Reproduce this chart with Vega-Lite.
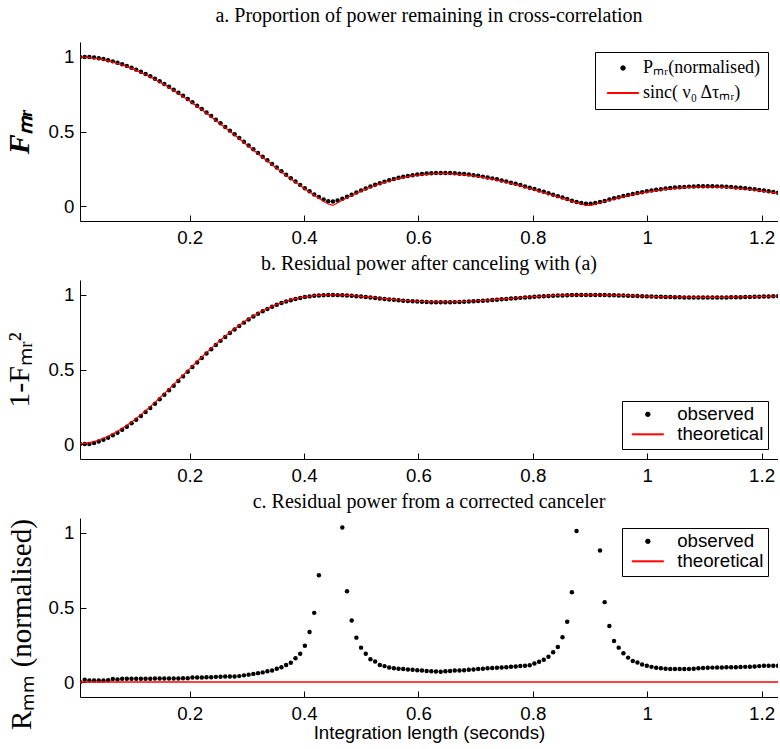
{
"$schema": "https://vega.github.io/schema/vega-lite/v6.json",
"background": "white",
"padding": {"left": 4, "top": 6, "right": 0, "bottom": 0},
"spacing": 59,
"bounds": "flush",
"config": {
 "view": {"stroke": null},
 "title": {"font": "Liberation Serif", "fontSize": 20, "fontWeight": "normal", "color": "black", "anchor": "middle", "frame": "group"},
 "axis": {"labelFont": "Liberation Sans", "labelFontSize": 18.7, "labelColor": "black", "domainColor": "black", "tickColor": "black", "tickSize": -6, "grid": false, "labelFlush": false, "labelOverlap": false, "labelBound": false, "titleColor": "black", "titleFontWeight": "normal"},
 "axisX": {"labelPadding": 13, "titleFont": "Liberation Sans", "titleFontSize": 18.7, "titlePadding": 1},
 "axisY": {"labelPadding": 12, "titleFont": "Liberation Serif", "titleFontSize": 30},
 "legend": {"strokeColor": "black", "fillColor": "white", "cornerRadius": 0, "padding": 4, "rowPadding": 0, "symbolSize": 20, "symbolStrokeWidth": 1, "labelFont": "Liberation Sans", "labelFontSize": 18.7, "labelColor": "black", "labelLimit": 400, "offset": 10, "labelOffset": 20, "symbolOffset": 12.5}
},
"resolve": {"scale": {"color": "independent", "shape": "independent"}, "legend": {"color": "independent", "shape": "independent"}},
"data": {"values": [
{"t":0.00819,"sinc":0.9995,"Pmr":1.0,"b_th":0.001,"b_obs":0.0,"c_obs":0.0,"c_th":0},
{"t":0.01638,"sinc":0.9978,"Pmr":1.0,"b_th":0.0044,"b_obs":0.0,"c_obs":0.015,"c_th":0},
{"t":0.02458,"sinc":0.9951,"Pmr":0.9995,"b_th":0.0098,"b_obs":0.001,"c_obs":0.01,"c_th":0},
{"t":0.03277,"sinc":0.9912,"Pmr":0.9962,"b_th":0.0175,"b_obs":0.0076,"c_obs":0.01,"c_th":0},
{"t":0.04096,"sinc":0.9863,"Pmr":0.9913,"b_th":0.0272,"b_obs":0.0173,"c_obs":0.01,"c_th":0},
{"t":0.04915,"sinc":0.9804,"Pmr":0.9854,"b_th":0.0388,"b_obs":0.029,"c_obs":0.01,"c_th":0},
{"t":0.05734,"sinc":0.9733,"Pmr":0.9783,"b_th":0.0527,"b_obs":0.0429,"c_obs":0.012,"c_th":0},
{"t":0.06554,"sinc":0.9652,"Pmr":0.9702,"b_th":0.0684,"b_obs":0.0587,"c_obs":0.02,"c_th":0},
{"t":0.07373,"sinc":0.9561,"Pmr":0.9611,"b_th":0.0859,"b_obs":0.0763,"c_obs":0.018,"c_th":0},
{"t":0.08192,"sinc":0.946,"Pmr":0.951,"b_th":0.1051,"b_obs":0.0956,"c_obs":0.022,"c_th":0},
{"t":0.09011,"sinc":0.9349,"Pmr":0.9399,"b_th":0.126,"b_obs":0.1166,"c_obs":0.022,"c_th":0},
{"t":0.0983,"sinc":0.9228,"Pmr":0.9278,"b_th":0.1484,"b_obs":0.1392,"c_obs":0.023,"c_th":0},
{"t":0.1065,"sinc":0.9098,"Pmr":0.9148,"b_th":0.1723,"b_obs":0.1631,"c_obs":0.023,"c_th":0},
{"t":0.11469,"sinc":0.8959,"Pmr":0.9009,"b_th":0.1974,"b_obs":0.1884,"c_obs":0.023,"c_th":0},
{"t":0.12288,"sinc":0.881,"Pmr":0.886,"b_th":0.2238,"b_obs":0.215,"c_obs":0.023,"c_th":0},
{"t":0.13107,"sinc":0.8653,"Pmr":0.8703,"b_th":0.2513,"b_obs":0.2426,"c_obs":0.023,"c_th":0},
{"t":0.13926,"sinc":0.8488,"Pmr":0.8538,"b_th":0.2795,"b_obs":0.271,"c_obs":0.024,"c_th":0},
{"t":0.14746,"sinc":0.8315,"Pmr":0.8365,"b_th":0.3086,"b_obs":0.3003,"c_obs":0.024,"c_th":0},
{"t":0.15565,"sinc":0.8134,"Pmr":0.8184,"b_th":0.3384,"b_obs":0.3302,"c_obs":0.024,"c_th":0},
{"t":0.16384,"sinc":0.7945,"Pmr":0.7995,"b_th":0.3688,"b_obs":0.3608,"c_obs":0.024,"c_th":0},
{"t":0.17203,"sinc":0.775,"Pmr":0.78,"b_th":0.3994,"b_obs":0.3916,"c_obs":0.024,"c_th":0},
{"t":0.18022,"sinc":0.7548,"Pmr":0.7598,"b_th":0.4303,"b_obs":0.4227,"c_obs":0.024,"c_th":0},
{"t":0.18842,"sinc":0.734,"Pmr":0.739,"b_th":0.4612,"b_obs":0.4539,"c_obs":0.025,"c_th":0},
{"t":0.19661,"sinc":0.7126,"Pmr":0.7176,"b_th":0.4922,"b_obs":0.485,"c_obs":0.025,"c_th":0},
{"t":0.2048,"sinc":0.6906,"Pmr":0.6956,"b_th":0.5231,"b_obs":0.5161,"c_obs":0.03,"c_th":0},
{"t":0.21299,"sinc":0.6682,"Pmr":0.6732,"b_th":0.5535,"b_obs":0.5468,"c_obs":0.031,"c_th":0},
{"t":0.22118,"sinc":0.6453,"Pmr":0.6503,"b_th":0.5836,"b_obs":0.5771,"c_obs":0.031,"c_th":0},
{"t":0.22938,"sinc":0.622,"Pmr":0.627,"b_th":0.6131,"b_obs":0.6069,"c_obs":0.032,"c_th":0},
{"t":0.23757,"sinc":0.5983,"Pmr":0.6033,"b_th":0.642,"b_obs":0.636,"c_obs":0.032,"c_th":0},
{"t":0.24576,"sinc":0.5743,"Pmr":0.5793,"b_th":0.6702,"b_obs":0.6644,"c_obs":0.035,"c_th":0},
{"t":0.25395,"sinc":0.5501,"Pmr":0.5551,"b_th":0.6974,"b_obs":0.6919,"c_obs":0.036,"c_th":0},
{"t":0.26214,"sinc":0.5256,"Pmr":0.5306,"b_th":0.7237,"b_obs":0.7185,"c_obs":0.037,"c_th":0},
{"t":0.27034,"sinc":0.5008,"Pmr":0.5058,"b_th":0.7492,"b_obs":0.7442,"c_obs":0.037,"c_th":0},
{"t":0.27853,"sinc":0.476,"Pmr":0.481,"b_th":0.7734,"b_obs":0.7686,"c_obs":0.038,"c_th":0},
{"t":0.28672,"sinc":0.451,"Pmr":0.456,"b_th":0.7966,"b_obs":0.7921,"c_obs":0.04,"c_th":0},
{"t":0.29491,"sinc":0.426,"Pmr":0.431,"b_th":0.8185,"b_obs":0.8142,"c_obs":0.045,"c_th":0},
{"t":0.3031,"sinc":0.401,"Pmr":0.406,"b_th":0.8392,"b_obs":0.8352,"c_obs":0.05,"c_th":0},
{"t":0.3113,"sinc":0.376,"Pmr":0.381,"b_th":0.8586,"b_obs":0.8548,"c_obs":0.055,"c_th":0},
{"t":0.31949,"sinc":0.3511,"Pmr":0.3561,"b_th":0.8767,"b_obs":0.8732,"c_obs":0.06,"c_th":0},
{"t":0.32768,"sinc":0.3263,"Pmr":0.3313,"b_th":0.8935,"b_obs":0.8902,"c_obs":0.065,"c_th":0},
{"t":0.33587,"sinc":0.3016,"Pmr":0.3066,"b_th":0.909,"b_obs":0.906,"c_obs":0.072,"c_th":0},
{"t":0.34406,"sinc":0.2773,"Pmr":0.2823,"b_th":0.9231,"b_obs":0.9203,"c_obs":0.078,"c_th":0},
{"t":0.35226,"sinc":0.253,"Pmr":0.258,"b_th":0.936,"b_obs":0.9334,"c_obs":0.09,"c_th":0},
{"t":0.36045,"sinc":0.2291,"Pmr":0.2341,"b_th":0.9475,"b_obs":0.9452,"c_obs":0.1,"c_th":0},
{"t":0.36864,"sinc":0.2056,"Pmr":0.2106,"b_th":0.9577,"b_obs":0.9556,"c_obs":0.115,"c_th":0},
{"t":0.37683,"sinc":0.1823,"Pmr":0.1873,"b_th":0.9668,"b_obs":0.9649,"c_obs":0.13,"c_th":0},
{"t":0.38502,"sinc":0.1595,"Pmr":0.1645,"b_th":0.9746,"b_obs":0.9729,"c_obs":0.16,"c_th":0},
{"t":0.39322,"sinc":0.1371,"Pmr":0.1421,"b_th":0.9812,"b_obs":0.9798,"c_obs":0.19,"c_th":0},
{"t":0.40141,"sinc":0.1152,"Pmr":0.1202,"b_th":0.9867,"b_obs":0.9856,"c_obs":0.244,"c_th":0},
{"t":0.4096,"sinc":0.0938,"Pmr":0.0988,"b_th":0.9912,"b_obs":0.9902,"c_obs":0.336,"c_th":0},
{"t":0.41779,"sinc":0.073,"Pmr":0.078,"b_th":0.9947,"b_obs":0.9939,"c_obs":0.464,"c_th":0},
{"t":0.42598,"sinc":0.0527,"Pmr":0.0606,"b_th":0.9972,"b_obs":0.9963,"c_obs":0.716,"c_th":0},
{"t":0.43418,"sinc":0.033,"Pmr":0.0446,"b_th":0.9989,"b_obs":0.998,"c_obs":null,"c_th":0},
{"t":0.44237,"sinc":0.0139,"Pmr":0.0331,"b_th":0.9998,"b_obs":0.9989,"c_obs":null,"c_th":0},
{"t":0.45056,"sinc":0.0045,"Pmr":0.0303,"b_th":1.0,"b_obs":0.9991,"c_obs":null,"c_th":0},
{"t":0.45875,"sinc":0.0223,"Pmr":0.0374,"b_th":0.9995,"b_obs":0.9986,"c_obs":null,"c_th":0},
{"t":0.46694,"sinc":0.0394,"Pmr":0.0497,"b_th":0.9984,"b_obs":0.9975,"c_obs":1.036,"c_th":0},
{"t":0.47514,"sinc":0.0557,"Pmr":0.0633,"b_th":0.9969,"b_obs":0.996,"c_obs":0.609,"c_th":0},
{"t":0.48333,"sinc":0.0713,"Pmr":0.0763,"b_th":0.9949,"b_obs":0.9942,"c_obs":0.413,"c_th":0},
{"t":0.49152,"sinc":0.0862,"Pmr":0.0912,"b_th":0.9926,"b_obs":0.9917,"c_obs":0.298,"c_th":0},
{"t":0.49971,"sinc":0.1003,"Pmr":0.1053,"b_th":0.9899,"b_obs":0.9889,"c_obs":0.231,"c_th":0},
{"t":0.5079,"sinc":0.1136,"Pmr":0.1186,"b_th":0.9871,"b_obs":0.9859,"c_obs":0.19,"c_th":0},
{"t":0.5161,"sinc":0.1261,"Pmr":0.1311,"b_th":0.9841,"b_obs":0.9828,"c_obs":0.153,"c_th":0},
{"t":0.52429,"sinc":0.1378,"Pmr":0.1428,"b_th":0.981,"b_obs":0.9796,"c_obs":0.138,"c_th":0},
{"t":0.53248,"sinc":0.1488,"Pmr":0.1538,"b_th":0.9779,"b_obs":0.9763,"c_obs":0.115,"c_th":0},
{"t":0.54067,"sinc":0.1589,"Pmr":0.1639,"b_th":0.9748,"b_obs":0.9731,"c_obs":0.107,"c_th":0},
{"t":0.54886,"sinc":0.1682,"Pmr":0.1732,"b_th":0.9717,"b_obs":0.97,"c_obs":0.098,"c_th":0},
{"t":0.55706,"sinc":0.1766,"Pmr":0.1816,"b_th":0.9688,"b_obs":0.967,"c_obs":0.093,"c_th":0},
{"t":0.56525,"sinc":0.1843,"Pmr":0.1893,"b_th":0.966,"b_obs":0.9642,"c_obs":0.089,"c_th":0},
{"t":0.57344,"sinc":0.1911,"Pmr":0.1961,"b_th":0.9635,"b_obs":0.9615,"c_obs":0.087,"c_th":0},
{"t":0.58163,"sinc":0.1971,"Pmr":0.2021,"b_th":0.9612,"b_obs":0.9592,"c_obs":0.085,"c_th":0},
{"t":0.58982,"sinc":0.2023,"Pmr":0.2073,"b_th":0.9591,"b_obs":0.957,"c_obs":0.082,"c_th":0},
{"t":0.59802,"sinc":0.2067,"Pmr":0.2117,"b_th":0.9573,"b_obs":0.9552,"c_obs":0.08,"c_th":0},
{"t":0.60621,"sinc":0.2104,"Pmr":0.2154,"b_th":0.9557,"b_obs":0.9536,"c_obs":0.077,"c_th":0},
{"t":0.6144,"sinc":0.2132,"Pmr":0.2182,"b_th":0.9545,"b_obs":0.9524,"c_obs":0.074,"c_th":0},
{"t":0.62259,"sinc":0.2153,"Pmr":0.2203,"b_th":0.9536,"b_obs":0.9515,"c_obs":0.072,"c_th":0},
{"t":0.63078,"sinc":0.2166,"Pmr":0.2216,"b_th":0.9531,"b_obs":0.9509,"c_obs":0.071,"c_th":0},
{"t":0.63898,"sinc":0.2172,"Pmr":0.2222,"b_th":0.9528,"b_obs":0.9506,"c_obs":0.07,"c_th":0},
{"t":0.64717,"sinc":0.2171,"Pmr":0.2221,"b_th":0.9529,"b_obs":0.9507,"c_obs":0.072,"c_th":0},
{"t":0.65536,"sinc":0.2162,"Pmr":0.2212,"b_th":0.9533,"b_obs":0.9511,"c_obs":0.075,"c_th":0},
{"t":0.66355,"sinc":0.2147,"Pmr":0.2197,"b_th":0.9539,"b_obs":0.9517,"c_obs":0.077,"c_th":0},
{"t":0.67174,"sinc":0.2125,"Pmr":0.2175,"b_th":0.9548,"b_obs":0.9527,"c_obs":0.078,"c_th":0},
{"t":0.67994,"sinc":0.2097,"Pmr":0.2147,"b_th":0.956,"b_obs":0.9539,"c_obs":0.08,"c_th":0},
{"t":0.68813,"sinc":0.2063,"Pmr":0.2113,"b_th":0.9574,"b_obs":0.9554,"c_obs":0.082,"c_th":0},
{"t":0.69632,"sinc":0.2022,"Pmr":0.2072,"b_th":0.9591,"b_obs":0.9571,"c_obs":0.085,"c_th":0},
{"t":0.70451,"sinc":0.1977,"Pmr":0.2027,"b_th":0.9609,"b_obs":0.9589,"c_obs":0.088,"c_th":0},
{"t":0.7127,"sinc":0.1925,"Pmr":0.1975,"b_th":0.9629,"b_obs":0.961,"c_obs":0.09,"c_th":0},
{"t":0.7209,"sinc":0.1869,"Pmr":0.1919,"b_th":0.9651,"b_obs":0.9632,"c_obs":0.092,"c_th":0},
{"t":0.72909,"sinc":0.1808,"Pmr":0.1858,"b_th":0.9673,"b_obs":0.9655,"c_obs":0.094,"c_th":0},
{"t":0.73728,"sinc":0.1742,"Pmr":0.1792,"b_th":0.9697,"b_obs":0.9679,"c_obs":0.096,"c_th":0},
{"t":0.74547,"sinc":0.1672,"Pmr":0.1722,"b_th":0.972,"b_obs":0.9703,"c_obs":0.098,"c_th":0},
{"t":0.75366,"sinc":0.1598,"Pmr":0.1648,"b_th":0.9745,"b_obs":0.9728,"c_obs":0.1,"c_th":0},
{"t":0.76186,"sinc":0.1521,"Pmr":0.1571,"b_th":0.9769,"b_obs":0.9753,"c_obs":0.103,"c_th":0},
{"t":0.77005,"sinc":0.144,"Pmr":0.149,"b_th":0.9793,"b_obs":0.9778,"c_obs":0.105,"c_th":0},
{"t":0.77824,"sinc":0.1356,"Pmr":0.1406,"b_th":0.9816,"b_obs":0.9802,"c_obs":0.108,"c_th":0},
{"t":0.78643,"sinc":0.127,"Pmr":0.132,"b_th":0.9839,"b_obs":0.9826,"c_obs":0.11,"c_th":0},
{"t":0.79462,"sinc":0.1181,"Pmr":0.1231,"b_th":0.9861,"b_obs":0.9848,"c_obs":0.113,"c_th":0},
{"t":0.80282,"sinc":0.109,"Pmr":0.114,"b_th":0.9881,"b_obs":0.987,"c_obs":0.125,"c_th":0},
{"t":0.81101,"sinc":0.0998,"Pmr":0.1048,"b_th":0.99,"b_obs":0.989,"c_obs":0.136,"c_th":0},
{"t":0.8192,"sinc":0.0904,"Pmr":0.0954,"b_th":0.9918,"b_obs":0.9909,"c_obs":0.15,"c_th":0},
{"t":0.82739,"sinc":0.0809,"Pmr":0.0859,"b_th":0.9935,"b_obs":0.9926,"c_obs":0.17,"c_th":0},
{"t":0.83558,"sinc":0.0713,"Pmr":0.0763,"b_th":0.9949,"b_obs":0.9942,"c_obs":0.2,"c_th":0},
{"t":0.84378,"sinc":0.0617,"Pmr":0.0667,"b_th":0.9962,"b_obs":0.9956,"c_obs":0.235,"c_th":0},
{"t":0.85197,"sinc":0.052,"Pmr":0.057,"b_th":0.9973,"b_obs":0.9968,"c_obs":0.3,"c_th":0},
{"t":0.86016,"sinc":0.0424,"Pmr":0.0474,"b_th":0.9982,"b_obs":0.9978,"c_obs":0.404,"c_th":0},
{"t":0.86835,"sinc":0.0328,"Pmr":0.0361,"b_th":0.9989,"b_obs":0.9987,"c_obs":0.602,"c_th":0},
{"t":0.87654,"sinc":0.0233,"Pmr":0.0277,"b_th":0.9995,"b_obs":0.9992,"c_obs":1.013,"c_th":0},
{"t":0.88474,"sinc":0.0139,"Pmr":0.0204,"b_th":0.9998,"b_obs":0.9996,"c_obs":null,"c_th":0},
{"t":0.89293,"sinc":0.0046,"Pmr":0.0157,"b_th":1.0,"b_obs":0.9998,"c_obs":null,"c_th":0},
{"t":0.90112,"sinc":0.0045,"Pmr":0.0157,"b_th":1.0,"b_obs":0.9998,"c_obs":null,"c_th":0},
{"t":0.90931,"sinc":0.0135,"Pmr":0.0202,"b_th":0.9998,"b_obs":0.9996,"c_obs":null,"c_th":0},
{"t":0.9175,"sinc":0.0222,"Pmr":0.0268,"b_th":0.9995,"b_obs":0.9993,"c_obs":0.882,"c_th":0},
{"t":0.9257,"sinc":0.0308,"Pmr":0.0343,"b_th":0.9991,"b_obs":0.9988,"c_obs":0.536,"c_th":0},
{"t":0.93389,"sinc":0.039,"Pmr":0.044,"b_th":0.9985,"b_obs":0.9981,"c_obs":0.376,"c_th":0},
{"t":0.94208,"sinc":0.047,"Pmr":0.052,"b_th":0.9978,"b_obs":0.9973,"c_obs":0.276,"c_th":0},
{"t":0.95027,"sinc":0.0547,"Pmr":0.0597,"b_th":0.997,"b_obs":0.9964,"c_obs":0.231,"c_th":0},
{"t":0.95846,"sinc":0.0621,"Pmr":0.0671,"b_th":0.9961,"b_obs":0.9955,"c_obs":0.193,"c_th":0},
{"t":0.96666,"sinc":0.0692,"Pmr":0.0742,"b_th":0.9952,"b_obs":0.9945,"c_obs":0.164,"c_th":0},
{"t":0.97485,"sinc":0.0759,"Pmr":0.0809,"b_th":0.9942,"b_obs":0.9935,"c_obs":0.142,"c_th":0},
{"t":0.98304,"sinc":0.0823,"Pmr":0.0873,"b_th":0.9932,"b_obs":0.9924,"c_obs":0.131,"c_th":0},
{"t":0.99123,"sinc":0.0883,"Pmr":0.0933,"b_th":0.9922,"b_obs":0.9913,"c_obs":0.118,"c_th":0},
{"t":0.99942,"sinc":0.0939,"Pmr":0.0989,"b_th":0.9912,"b_obs":0.9902,"c_obs":0.109,"c_th":0},
{"t":1.00762,"sinc":0.0991,"Pmr":0.1041,"b_th":0.9902,"b_obs":0.9892,"c_obs":0.102,"c_th":0},
{"t":1.01581,"sinc":0.1039,"Pmr":0.1089,"b_th":0.9892,"b_obs":0.9881,"c_obs":0.096,"c_th":0},
{"t":1.024,"sinc":0.1083,"Pmr":0.1133,"b_th":0.9883,"b_obs":0.9872,"c_obs":0.092,"c_th":0},
{"t":1.03219,"sinc":0.1122,"Pmr":0.1172,"b_th":0.9874,"b_obs":0.9863,"c_obs":0.09,"c_th":0},
{"t":1.04038,"sinc":0.1158,"Pmr":0.1208,"b_th":0.9866,"b_obs":0.9854,"c_obs":0.088,"c_th":0},
{"t":1.04858,"sinc":0.1189,"Pmr":0.1239,"b_th":0.9859,"b_obs":0.9846,"c_obs":0.087,"c_th":0},
{"t":1.05677,"sinc":0.1215,"Pmr":0.1265,"b_th":0.9852,"b_obs":0.984,"c_obs":0.087,"c_th":0},
{"t":1.06496,"sinc":0.1237,"Pmr":0.1287,"b_th":0.9847,"b_obs":0.9834,"c_obs":0.087,"c_th":0},
{"t":1.07315,"sinc":0.1255,"Pmr":0.1305,"b_th":0.9842,"b_obs":0.983,"c_obs":0.088,"c_th":0},
{"t":1.08134,"sinc":0.1269,"Pmr":0.1319,"b_th":0.9839,"b_obs":0.9826,"c_obs":0.09,"c_th":0},
{"t":1.08954,"sinc":0.1278,"Pmr":0.1328,"b_th":0.9837,"b_obs":0.9824,"c_obs":0.092,"c_th":0},
{"t":1.09773,"sinc":0.1283,"Pmr":0.1333,"b_th":0.9835,"b_obs":0.9822,"c_obs":0.094,"c_th":0},
{"t":1.10592,"sinc":0.1283,"Pmr":0.1333,"b_th":0.9835,"b_obs":0.9822,"c_obs":0.096,"c_th":0},
{"t":1.11411,"sinc":0.128,"Pmr":0.133,"b_th":0.9836,"b_obs":0.9823,"c_obs":0.097,"c_th":0},
{"t":1.1223,"sinc":0.1272,"Pmr":0.1322,"b_th":0.9838,"b_obs":0.9825,"c_obs":0.098,"c_th":0},
{"t":1.1305,"sinc":0.126,"Pmr":0.131,"b_th":0.9841,"b_obs":0.9828,"c_obs":0.098,"c_th":0},
{"t":1.13869,"sinc":0.1245,"Pmr":0.1295,"b_th":0.9845,"b_obs":0.9832,"c_obs":0.099,"c_th":0},
{"t":1.14688,"sinc":0.1225,"Pmr":0.1275,"b_th":0.985,"b_obs":0.9837,"c_obs":0.1,"c_th":0},
{"t":1.15507,"sinc":0.1202,"Pmr":0.1252,"b_th":0.9856,"b_obs":0.9843,"c_obs":0.1,"c_th":0},
{"t":1.16326,"sinc":0.1175,"Pmr":0.1225,"b_th":0.9862,"b_obs":0.985,"c_obs":0.101,"c_th":0},
{"t":1.17146,"sinc":0.1144,"Pmr":0.1194,"b_th":0.9869,"b_obs":0.9857,"c_obs":0.102,"c_th":0},
{"t":1.17965,"sinc":0.1111,"Pmr":0.1161,"b_th":0.9877,"b_obs":0.9865,"c_obs":0.103,"c_th":0},
{"t":1.18784,"sinc":0.1074,"Pmr":0.1124,"b_th":0.9885,"b_obs":0.9874,"c_obs":0.105,"c_th":0},
{"t":1.19603,"sinc":0.1034,"Pmr":0.1084,"b_th":0.9893,"b_obs":0.9882,"c_obs":0.107,"c_th":0},
{"t":1.20422,"sinc":0.0991,"Pmr":0.1041,"b_th":0.9902,"b_obs":0.9892,"c_obs":0.109,"c_th":0},
{"t":1.21242,"sinc":0.0946,"Pmr":0.0996,"b_th":0.9911,"b_obs":0.9901,"c_obs":0.109,"c_th":0},
{"t":1.22061,"sinc":0.0898,"Pmr":0.0948,"b_th":0.9919,"b_obs":0.991,"c_obs":0.11,"c_th":0},
{"t":1.2288,"sinc":0.0848,"Pmr":0.0898,"b_th":0.9928,"b_obs":0.9919,"c_obs":0.11,"c_th":0}
]},
"vconcat": [
 {
  "width": 698, "height": 179,
  "title": {"text": "a. Proportion of power remaining in cross-correlation", "offset": 16},
  "encoding": {"x": {"field": "t", "type": "quantitative", "scale": {"domain": [0.008192, 1.2288], "nice": false, "zero": false}, "axis": {"title": null, "values": [0.2, 0.4, 0.6, 0.8, 1, 1.2], "format": "~g"}}},
  "layer": [
   {"mark": {"type": "point", "filled": true, "size": 20, "opacity": 1, "clip": true},
    "encoding": {
     "y": {"field": "Pmr", "type": "quantitative", "scale": {"domain": [-0.1, 1.1], "nice": false, "zero": false}, "axis": {"title": "Fₘᵣ", "values": [0, 0.5, 1], "format": "~g", "titleFontStyle": "italic", "titleFontWeight": "bold", "titlePadding": 14}},
     "color": {"datum": "Pₘᵣ(normalised)", "scale": {"domain": ["Pₘᵣ(normalised)", "sinc( ν₀ Δτₘᵣ)"], "range": ["black", "red"]}, "legend": {"title": null, "orient": "top-right", "labelFont": "Liberation Serif", "labelFontSize": 18, "padding": 7, "rowPadding": 7, "symbolOffset": 12, "labelOffset": 11}},
     "shape": {"datum": "Pₘᵣ(normalised)", "scale": {"domain": ["Pₘᵣ(normalised)", "sinc( ν₀ Δτₘᵣ)"], "range": ["circle", "M-7,-0.22L7,-0.22L7,0.22L-7,0.22Z"]}, "legend": {"title": null, "orient": "top-right", "labelFont": "Liberation Serif", "labelFontSize": 18, "padding": 7, "rowPadding": 7, "symbolOffset": 12, "labelOffset": 11}}
    }},
   {"mark": {"type": "line", "strokeWidth": 1.2, "clip": true},
    "encoding": {"y": {"field": "sinc", "type": "quantitative"}, "color": {"datum": "sinc( ν₀ Δτₘᵣ)"}}}
  ]
 },
 {
  "width": 698, "height": 179,
  "title": {"text": "b. Residual power after canceling with (a)", "offset": 6},
  "encoding": {"x": {"field": "t", "type": "quantitative", "scale": {"domain": [0.008192, 1.2288], "nice": false, "zero": false}, "axis": {"title": null, "values": [0.2, 0.4, 0.6, 0.8, 1, 1.2], "format": "~g"}}},
  "layer": [
   {"mark": {"type": "point", "filled": true, "size": 20, "opacity": 1, "clip": true},
    "encoding": {
     "y": {"field": "b_obs", "type": "quantitative", "scale": {"domain": [-0.1, 1.1], "nice": false, "zero": false}, "axis": {"title": "1-Fₘᵣ²", "values": [0, 0.5, 1], "format": "~g", "titlePadding": 14}},
     "color": {"datum": "observed", "scale": {"domain": ["observed", "theoretical"], "range": ["black", "red"]}, "legend": {"title": null, "orient": "bottom-right"}},
     "shape": {"datum": "observed", "scale": {"domain": ["observed", "theoretical"], "range": ["circle", "M-7,-0.22L7,-0.22L7,0.22L-7,0.22Z"]}, "legend": {"title": null, "orient": "bottom-right"}}
    }},
   {"mark": {"type": "line", "strokeWidth": 1.2, "clip": true},
    "encoding": {"y": {"field": "b_th", "type": "quantitative"}, "color": {"datum": "theoretical"}}}
  ]
 },
 {
  "width": 698, "height": 179,
  "title": {"text": "c. Residual power from a corrected canceler", "offset": 6},
  "encoding": {"x": {"field": "t", "type": "quantitative", "scale": {"domain": [0.008192, 1.2288], "nice": false, "zero": false}, "axis": {"title": "Integration length (seconds)", "values": [0.2, 0.4, 0.6, 0.8, 1, 1.2], "format": "~g"}}},
  "layer": [
   {"mark": {"type": "point", "filled": true, "size": 20, "opacity": 1, "clip": true},
    "encoding": {
     "y": {"field": "c_obs", "type": "quantitative", "scale": {"domain": [-0.1, 1.1], "nice": false, "zero": false}, "axis": {"title": "Rₘₘ (normalised)", "values": [0, 0.5, 1], "format": "~g", "titlePadding": 12, "titleFontSize": 29, "titleY": 106}},
     "color": {"datum": "observed", "scale": {"domain": ["observed", "theoretical"], "range": ["black", "red"]}, "legend": {"title": null, "orient": "top-right"}},
     "shape": {"datum": "observed", "scale": {"domain": ["observed", "theoretical"], "range": ["circle", "M-7,-0.22L7,-0.22L7,0.22L-7,0.22Z"]}, "legend": {"title": null, "orient": "top-right"}}
    }},
   {"mark": {"type": "line", "strokeWidth": 1.5, "clip": true},
    "encoding": {"y": {"field": "c_th", "type": "quantitative"}, "color": {"datum": "theoretical"}}}
  ]
 }
]
}
